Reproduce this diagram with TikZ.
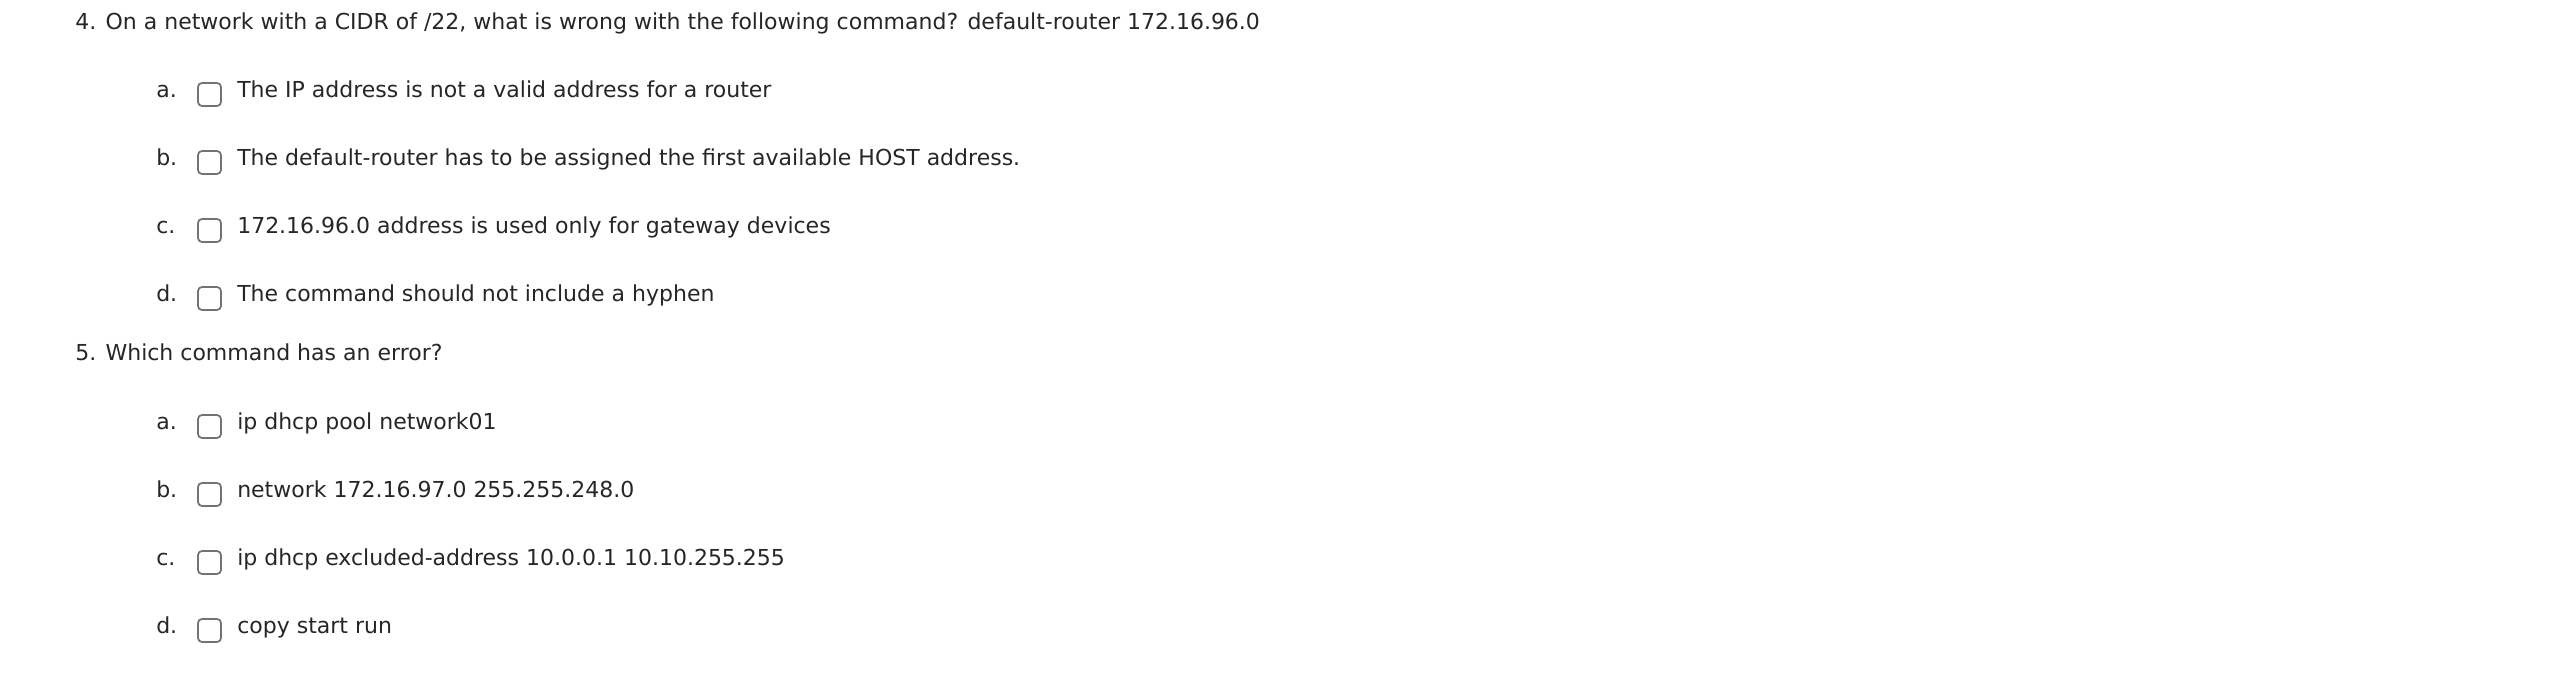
\documentclass[tikz,border=0pt]{standalone}
\usepackage{fontspec}
\setmainfont{DejaVu Sans}
\begin{document}
\begin{tikzpicture}[x=0.75pt,y=-0.75pt,
  txt/.style={anchor=mid west,inner sep=0pt,font=\fontsize{16.5pt}{20pt}\selectfont,text=black!85},
  cb/.style={draw=black!55,line width=1.3pt,rounded corners=3pt}]
\useasboundingbox (0,0) rectangle (2572,676);
\node[txt] (q4) at (75,26) {4. On a network with a CIDR of /22, what is wrong with the following command? default-router 172.16.96.0};
\node[txt] (q5) at (75,357) {5. Which command has an error?};
\foreach \y/\l/\t [count=\i] in {94/a./The IP address is not a valid address for a router,
  162/b./The default-router has to be assigned the first available HOST address.,
  230/c./172.16.96.0 address is used only for gateway devices,
  298/d./The command should not include a hyphen,
  426/a./ip dhcp pool network01,
  494/b./network 172.16.97.0 255.255.248.0,
  562/c./ip dhcp excluded-address 10.0.0.1 10.10.255.255,
  630/d./copy start run}{
  \node[txt] (l\i) at (156,\y) {\l};
  \draw[cb] (198,\y-11) rectangle (221,\y+12);
  \node[txt] (t\i) at (237,\y) {\t};
}
\end{tikzpicture}
\end{document}
